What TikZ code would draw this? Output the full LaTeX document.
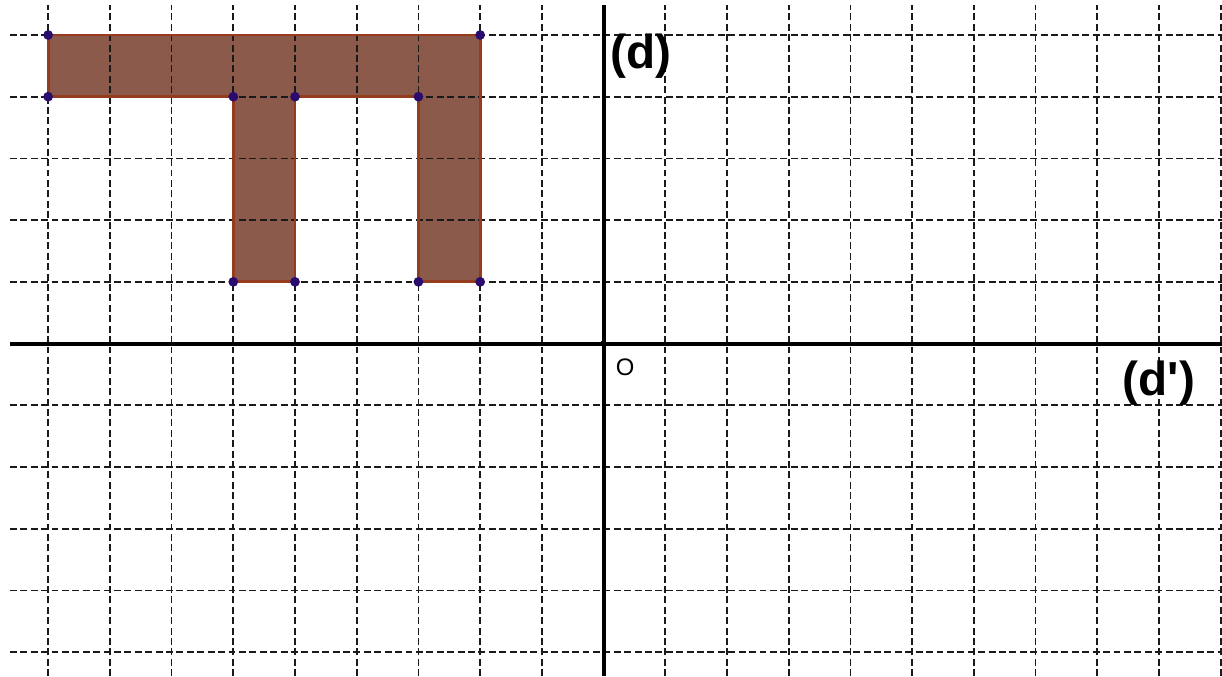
\documentclass[tikz,border=0pt]{standalone}
\usepackage{fontspec}
\setmainfont{Liberation Sans}
\usepackage{tikz}
\usetikzlibrary{positioning}
\definecolor{ink}{HTML}{000000}
\definecolor{gridink}{HTML}{1A1A1A}
\definecolor{shapefill}{HTML}{8C5A4B}
\definecolor{shapeedge}{HTML}{963C1E}
\definecolor{vertexblue}{HTML}{2A0C6E}
\tikzset{
  gridline/.style={draw=gridink,line width=0.8pt,dash pattern=on 3.2pt off 1.6pt},
  axisline/.style={draw=ink,line width=1.9pt},
  shapearea/.style={fill=shapefill},
  shapeline/.style={draw=shapeedge,line width=1.3pt,line join=miter},
  vertexdot/.style={circle,fill=vertexblue,inner sep=0pt,minimum size=4.5pt},
  axislabel/.style={font=\fontsize{22}{22}\selectfont\bfseries,inner sep=0pt,text=ink},
  originlabel/.style={font=\fontsize{11}{11}\selectfont,inner sep=0pt,text=ink}
}
\begin{document}
\begin{tikzpicture}[x=1cm,y=1cm]
  \useasboundingbox (-9.78,-5.39) rectangle (10.02,5.567);

  % the shape
  \coordinate (p1) at (-9,5);  \coordinate (p2) at (-2,5);
  \coordinate (p3) at (-2,1);  \coordinate (p4) at (-3,1);
  \coordinate (p5) at (-3,4);  \coordinate (p6) at (-5,4);
  \coordinate (p7) at (-5,1);  \coordinate (p8) at (-6,1);
  \coordinate (p9) at (-6,4);  \coordinate (p10) at (-9,4);
  \path[shapearea] (p1) -- (p2) -- (p3) -- (p4) -- (p5) -- (p6) -- (p7) -- (p8) -- (p9) -- (p10) -- cycle;

  % grid over the fill
  \draw[gridline] (-9.62,-5.39) grid (10.02,5.49);

  % outline on top
  \draw[shapeline] (p1) -- (p2) -- (p3) -- (p4) -- (p5) -- (p6) -- (p7) -- (p8) -- (p9) -- (p10) -- cycle;

  % axes
  \coordinate (xl) at (-9.62,0); \coordinate (xr) at (10.02,0);
  \coordinate (yt) at (0,5.49);  \coordinate (yb) at (0,-5.39);
  \draw[axisline] (xl) -- (xr);
  \draw[axisline] (yt) -- (yb);
  \node[vertexdot,fill=ink,minimum size=3pt] (o) at (0,0) {};

  \foreach \p in {p1,p2,p3,p4,p5,p6,p7,p8,p9,p10}
    \node[vertexdot] (v\p) at (\p) {};

  \node[axislabel] (dlab) at (0.61,4.66) {(d)};
  \node[axislabel] (dplab) at (9.0,-0.64) {(d\textquotesingle)};
  \node[originlabel] (olab) at (0.35,-0.38) {O};
\end{tikzpicture}
\end{document}
